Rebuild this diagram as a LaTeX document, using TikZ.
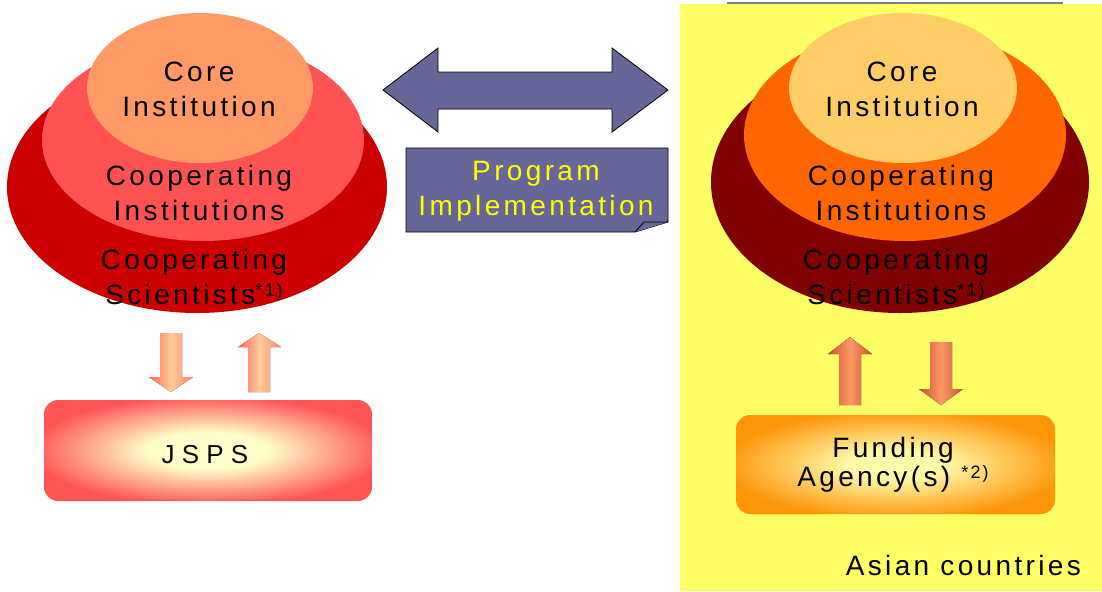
\documentclass[tikz,border=0pt]{standalone}
\usepackage{fontspec}
\setmainfont{Liberation Sans}
\newfontfamily\spaced[LetterSpace=12]{Liberation Sans}
\usepackage{tikz}
\usetikzlibrary{positioning,shapes.geometric}
\definecolor{sciredcolor}{RGB}{204, 0, 0}
\definecolor{instredcolor}{RGB}{255, 82, 82}
\definecolor{coreredcolor}{RGB}{255, 153, 102}
\definecolor{scibrowncolor}{RGB}{128, 0, 0}
\definecolor{instorangecolor}{RGB}{255, 102, 0}
\definecolor{coreorangecolor}{RGB}{255, 204, 102}
\definecolor{asiacolor}{RGB}{255, 255, 102}
\definecolor{programcolor}{RGB}{102, 102, 153}
\definecolor{labelyellow}{RGB}{255, 255, 0}
\definecolor{jspsedge}{RGB}{255, 102, 90}
\definecolor{jspsmid}{RGB}{255, 204, 153}
\definecolor{agencyedge}{RGB}{200, 80, 50}
\definecolor{agencymid}{RGB}{255, 153, 102}
\definecolor{jspsglowin}{RGB}{255, 255, 204}
\definecolor{jspsglowout}{RGB}{255, 85, 85}
\definecolor{agencyglowin}{RGB}{255, 250, 170}
\definecolor{agencyglowout}{RGB}{255, 150, 10}
\pgfdeclareradialshading{jspsglow}{\pgfpoint{0bp}{0bp}}{color(0bp)=(jspsglowin); color(9bp)=(jspsglowin); color(27bp)=(jspsglowout); color(50bp)=(jspsglowout)}
\pgfdeclareradialshading{agencyglow}{\pgfpoint{0bp}{0bp}}{color(0bp)=(agencyglowin); color(7bp)=(agencyglowin); color(27bp)=(agencyglowout); color(50bp)=(agencyglowout)}
\tikzset{
    layer text/.style={font=\spaced\fontsize{14}{17.5}\selectfont, align=center, inner sep=0pt},
    sci layer/.style={ellipse, inner sep=0pt},
    program arrow/.style={fill=programcolor, draw=black, line width=0.4pt, line join=miter},
    jsps arrow/.style={left color=jspsedge, right color=jspsedge!70!jspsmid, middle color=jspsmid},
    agency arrow/.style={left color=agencyedge, right color=agencyedge, middle color=agencymid},
    funding box/.style={rectangle, rounded corners=7pt, inner sep=0pt}
}
\newcommand{\note}[1]{\raisebox{0.3em}{\spaced\fontsize{9}{9}\selectfont #1}}

\begin{document}
\begin{tikzpicture}[x=0.5pt, y=-0.5pt]
    \useasboundingbox (0,0) rectangle (1102,591);

    % Asian side background
    \fill[asiacolor] (680,4) rectangle (1102,591);
    \draw[gray, line width=0.6pt] (727,3) -- (1063,3);

    % Japanese side: layers (sizes in pt, half the pixel size)
    \node[sci layer, fill=sciredcolor, minimum width=190pt, minimum height=126pt] (sciJ) at (197,187) {};
    \node[sci layer, fill=instredcolor, minimum width=161pt, minimum height=101pt] (instJ) at (203,140) {};
    \node[sci layer, fill=coreredcolor, minimum width=113pt, minimum height=75pt] (coreJ) at (200,88) {};
    \node[layer text] (coreJtext) at (199,89) {Core\\Institution};
    \node[layer text] (instJtext) at (199,193) {Cooperating\\Institutions};
    \node[layer text] (sciJtext) at (194,277) {Cooperating\\Scientists\note{*1)}};

    % Asian side: layers
    \node[sci layer, fill=scibrowncolor, minimum width=189pt, minimum height=131pt] (sciA) at (900,182) {};
    \node[sci layer, fill=instorangecolor, minimum width=161pt, minimum height=106pt] (instA) at (905,135) {};
    \node[sci layer, fill=coreorangecolor, minimum width=114pt, minimum height=75pt] (coreA) at (903,88) {};
    \node[layer text] (coreAtext) at (902,89) {Core\\Institution};
    \node[layer text] (instAtext) at (901,193) {Cooperating\\Institutions};
    \node[layer text] (sciAtext) at (896,277) {Cooperating\\Scientists\note{*1)}};

    % Program implementation (double arrow and note)
    \draw[program arrow] (383,90) -- (438,48) -- (438,72) -- (612,72) -- (612,48) -- (668,90)
        -- (612,132) -- (612,109) -- (438,109) -- (438,132) -- cycle;
    \draw[program arrow] (406,148) -- (668,148) -- (668,222) -- (635,232) -- (406,232) -- cycle;
    \draw[program arrow] (635,232) -- (644,222) -- (668,222);
    \node[layer text, text=labelyellow] (program) at (536,191) {Program\\Implementation};

    % JSPS
    \node[funding box, shading=jspsglow, minimum width=164pt, minimum height=50.5pt] (jsps) at (208,450.5) {};
    \node[font=\fontsize{13}{15}\selectfont, anchor=base] (jspstext) at (205,463) {J S P S};
    \fill[jsps arrow] (160,333) -- (182,333) -- (182,377) -- (193,377) -- (171,392) -- (149,377) -- (160,377) -- cycle;
    \fill[jsps arrow] (248,392) -- (270,392) -- (270,347) -- (281,347) -- (259,333) -- (238,347) -- (248,347) -- cycle;

    % Funding agency
    \node[funding box, shading=agencyglow, minimum width=159.5pt, minimum height=49.5pt] (agency) at (895.5,464.5) {};
    \node[font=\spaced\fontsize{14}{12.5}\selectfont, align=center, anchor=center] (agencytext) at (893,465) {Funding\\Agency(s) \note{*2)}};
    \fill[agency arrow] (839,405) -- (861,405) -- (861,354) -- (872,354) -- (850,337) -- (828,354) -- (839,354) -- cycle;
    \fill[agency arrow] (930,342) -- (952,342) -- (952,389) -- (963,389) -- (941,405) -- (919,389) -- (930,389) -- cycle;

    \node[font=\spaced\fontsize{14}{17}\selectfont, anchor=base east] (asia) at (1088,575) {Asian countries};
\end{tikzpicture}
\end{document}
